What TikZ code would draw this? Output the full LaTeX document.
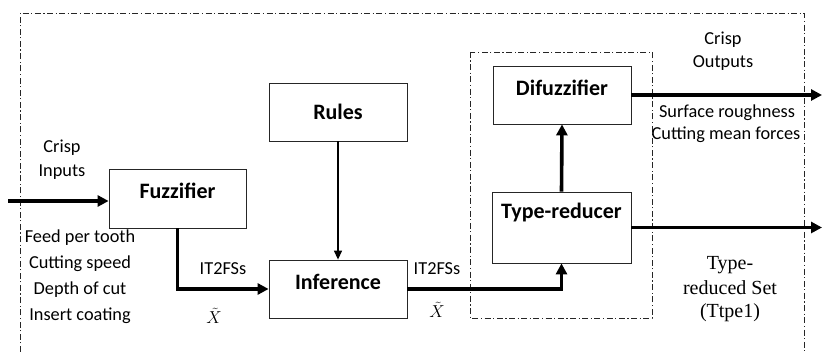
\documentclass[tikz,border=0pt]{standalone}
\usepackage{fontspec}
\setmainfont{Carlito}
\newfontfamily\timesface{Liberation Serif}
\usetikzlibrary{arrows.meta}
\begin{document}
\begin{tikzpicture}[x=1pt,y=-1pt,
  blk/.style={draw=black!85, line width=0.8pt, fill=white, inner sep=0pt},
  frame/.style={draw=black!85, line width=0.8pt,
    dash pattern=on 6pt off 2.5pt on 1.2pt off 2.5pt},
  heavy/.style={line width=3.6pt, -{Triangle[length=11pt,width=11pt]}},
  light/.style={line width=1.3pt, -{Triangle[length=9pt,width=8pt]}},
  lbl/.style={inner sep=0pt, font=\fontsize{18.3}{21}\selectfont},
  title/.style={inner sep=0pt, font=\fontsize{22}{25}\selectfont\bfseries},
  serif/.style={inner sep=0pt, font=\fontsize{20}{23}\selectfont\timesface},
  mathlbl/.style={inner sep=0pt, font=\fontsize{18}{21}\selectfont}]
\useasboundingbox (0,0) rectangle (822,352);

% dash-dot frames
\draw[frame] (20,352) -- (20,13) -- (804,13) -- (804,352);
\draw[frame] (470,52) rectangle (652,318);

% blocks
\node[blk, minimum width=138pt, minimum height=58pt] (rules) at (338,112) {};
\node[blk, minimum width=137pt, minimum height=59pt] (fuzz) at (177.5,198.5) {};
\node[blk, minimum width=138pt, minimum height=58pt] (inf) at (338,289) {};
\node[blk, minimum width=138pt, minimum height=58pt] (dif) at (562,95) {};
\node[blk, minimum width=139pt, minimum height=71pt] (tr) at (561.5,227.5) {};

% block titles
\node[title] (trules) at (338,112) {Rules};
\node[title] (tfuzz) at (177.5,191) {Fuzzifier};
\node[title] (tinf) at (338,282) {Inference};
\node[title] (tdif) at (562,88) {Difuzzifier};
\node[title] (ttr) at (561.5,213) {Type-reducer};

% signal paths
\coordinate (in) at (8,201);
\coordinate (out1) at (822,95);
\coordinate (out2) at (822,227.5);
\draw[heavy] (in) -- (in -| fuzz.west);
\draw[heavy] (fuzz.south) |- (inf.west);
\draw[light] (rules.south) -- (inf.north);
\draw[heavy] (inf.east) -| (tr.south);
\draw[heavy] (tr.north) -- (dif.south);
\draw[heavy] (dif.east) -- (out1);
\draw[heavy] (tr.east) -- (out2);

% annotations
\node[lbl] (crispin) at (62,148) {Crisp};
\node[lbl] (inputs) at (62,172) {Inputs};
\node[lbl] (v1) at (80,238) {Feed per tooth};
\node[lbl] (v2) at (80,264) {Cutting speed};
\node[lbl] (v3) at (80,290) {Depth of cut};
\node[lbl] (v4) at (80,316) {Insert coating};
\node[lbl] (fs1) at (223,269) {IT2FSs};
\node[mathlbl] (x1) at (214,316) {$\tilde{X}$};
\node[lbl] (fs2) at (437,269) {IT2FSs};
\node[mathlbl] (x2) at (437,310) {$\tilde{X}$};
\node[lbl] (crispout) at (723,40) {Crisp};
\node[lbl] (outputs) at (723,63) {Outputs};
\node[lbl] (o1) at (727,113) {Surface roughness};
\node[lbl] (o2) at (726,135) {Cutting mean forces};
\node[serif] (s1) at (730,265) {Type-};
\node[serif] (s2) at (730,288) {reduced Set};
\node[serif] (s3) at (730,313) {(Ttpe1)};
\end{tikzpicture}
\end{document}
